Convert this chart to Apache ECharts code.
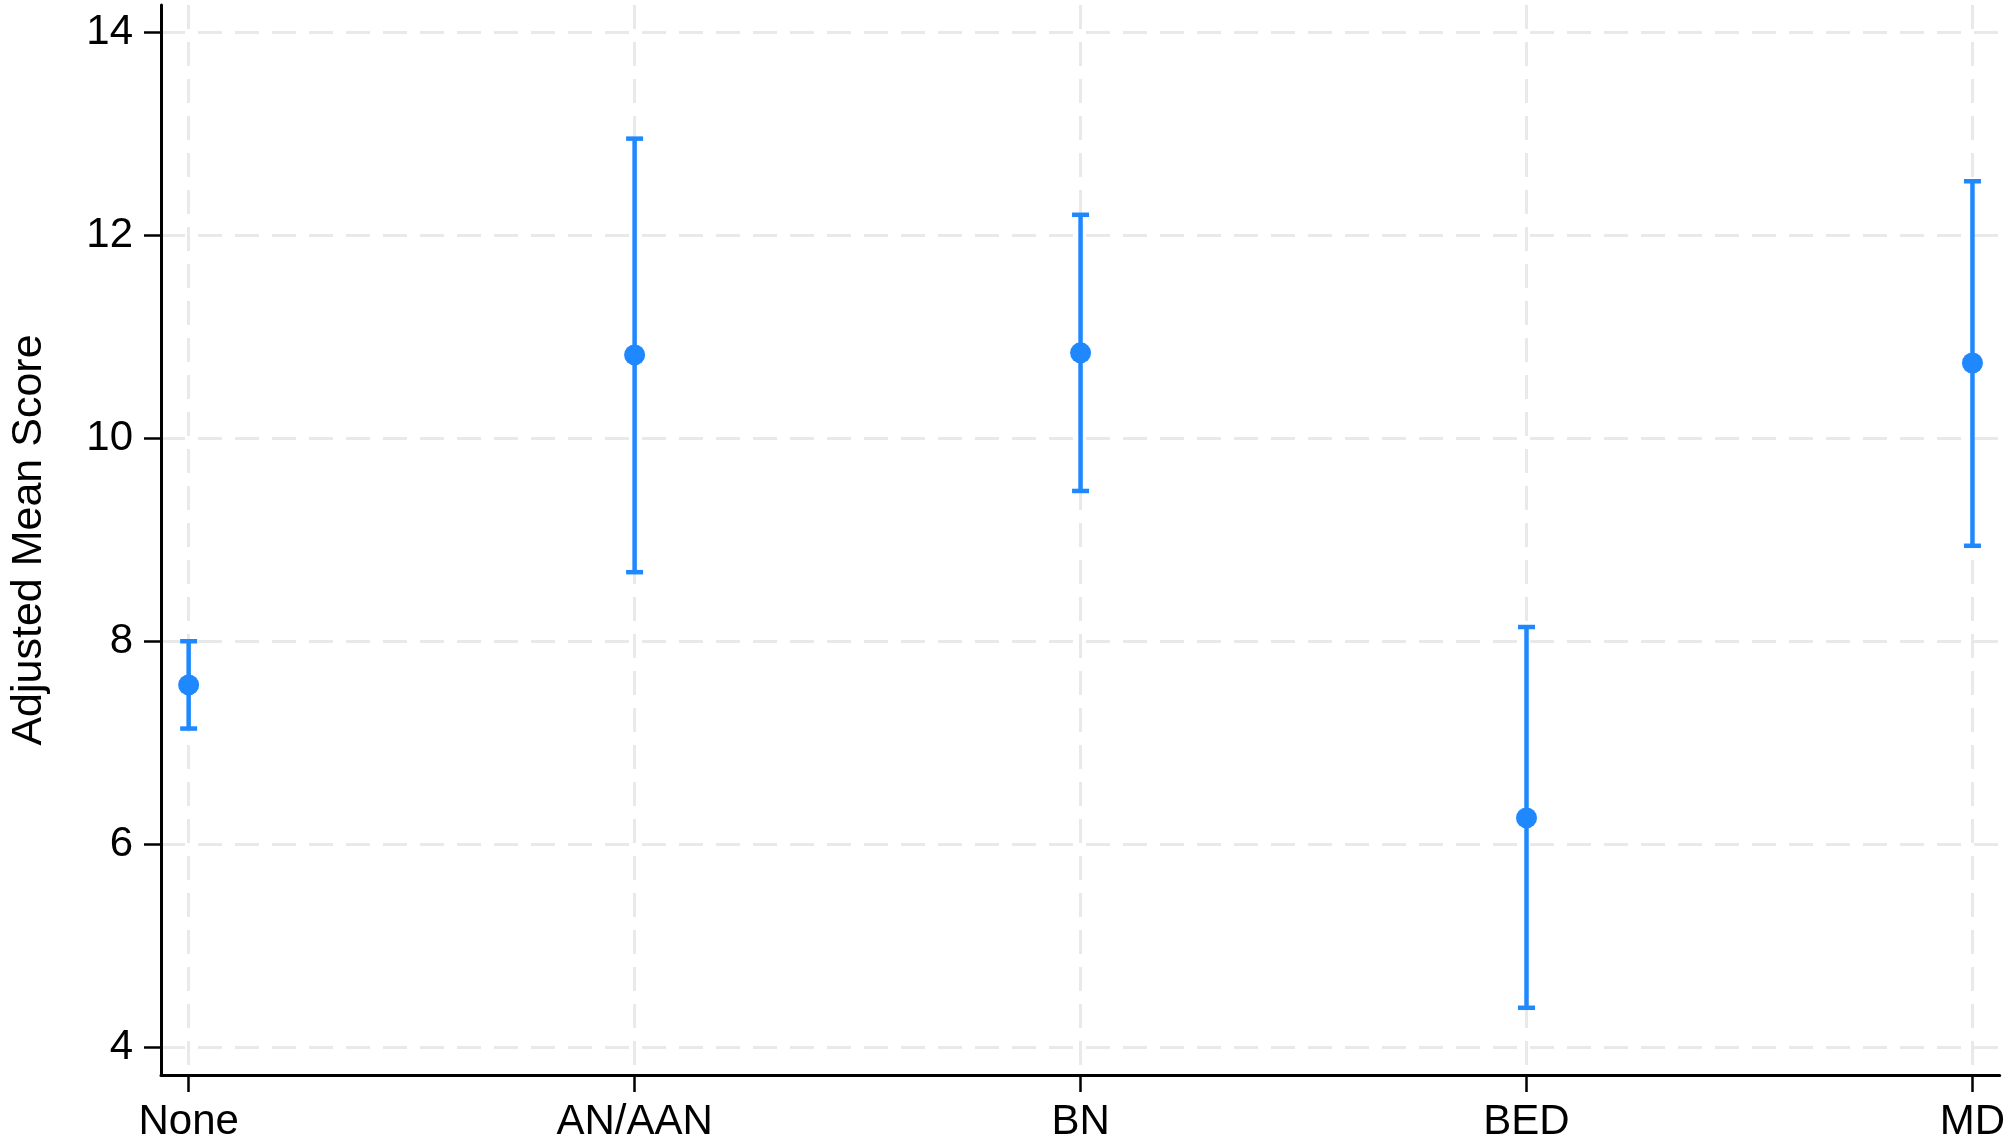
<!DOCTYPE html>
<html>
<head>
<meta charset="utf-8">
<script src="https://cdn.jsdelivr.net/npm/echarts@6/dist/echarts.min.js"></script>
<style>
html, body { margin: 0; padding: 0; background: #fff; }
#chart { width: 2008px; height: 1143px; }
</style>
</head>
<body>
<div id="chart"></div>
<script>
// groups on the x axis
var categories = ['None', 'AN/AAN', 'BN', 'BED', 'MD'];
// adjusted means and confidence limits
var means = [7.57, 10.82, 10.84, 6.26, 10.74];
var lower = [7.14, 8.68, 9.48, 4.39, 8.94];
var upper = [8.00, 12.95, 12.20, 8.14, 12.53];
var yTicks = [4, 6, 8, 10, 12, 14];

var blue = '#1f88ff';
var font = 'Liberation Sans, Arial, Helvetica, sans-serif';

var catIdx = categories.map(function (c, i) { return i; });

var barData = [];
var pointData = [];
for (var i = 0; i < categories.length; i++) {
	barData.push([i, lower[i], upper[i]]);
	pointData.push([i, means[i]]);
}

var gridLine = {
	show: true,
	lineStyle: { color: '#e9e9e9', width: 3, type: [24, 13] }
};

var chart = echarts.init(document.getElementById('chart'));

chart.setOption({
	backgroundColor: '#fff',
	animation: false,
	grid: { left: 153, right: 8, top: 5, bottom: 66 },
	xAxis: {
		type: 'value',
		min: -0.062,
		max: 4.061,
		axisLine: { onZero: false, lineStyle: { color: '#000', width: 3 } },
		axisTick: { show: true, length: 17, customValues: catIdx, lineStyle: { color: '#000', width: 2.5 } },
		axisLabel: {
			customValues: catIdx,
			formatter: function (v) { return categories[Math.round(v)]; },
			color: '#000',
			fontFamily: font,
			fontSize: 42,
			margin: 26
		},
		splitLine: gridLine
	},
	yAxis: {
		type: 'value',
		min: 3.728,
		max: 14.266,
		name: 'Adjusted Mean Score',
		nameLocation: 'middle',
		nameRotate: 90,
		nameGap: 110,
		nameTextStyle: { color: '#000', fontFamily: font, fontSize: 43 },
		axisLine: { show: true, onZero: false, lineStyle: { color: '#000', width: 3 } },
		axisTick: { show: true, length: 17, customValues: yTicks, lineStyle: { color: '#000', width: 2.5 } },
		axisLabel: {
			customValues: yTicks,
			color: '#000',
			fontFamily: font,
			fontSize: 42,
			margin: 28
		},
		splitLine: gridLine
	},
	series: [
		{
			name: 'CI',
			type: 'custom',
			data: barData,
			z: 3,
			renderItem: function (params, api) {
				var x = api.value(0);
				var lo = api.coord([x, api.value(1)]);
				var hi = api.coord([x, api.value(2)]);
				var cap = 8.5;
				var style = { stroke: blue, lineWidth: 4.5, fill: null };
				return {
					type: 'group',
					children: [
						{ type: 'line', shape: { x1: lo[0], y1: lo[1], x2: hi[0], y2: hi[1] }, style: style },
						{ type: 'line', shape: { x1: lo[0] - cap, y1: lo[1], x2: lo[0] + cap, y2: lo[1] }, style: style },
						{ type: 'line', shape: { x1: hi[0] - cap, y1: hi[1], x2: hi[0] + cap, y2: hi[1] }, style: style }
					]
				};
			}
		},
		{
			name: 'Mean',
			type: 'scatter',
			data: pointData,
			symbol: 'circle',
			symbolSize: 21,
			z: 4,
			itemStyle: { color: blue, opacity: 1 }
		}
	]
});
</script>
</body>
</html>
